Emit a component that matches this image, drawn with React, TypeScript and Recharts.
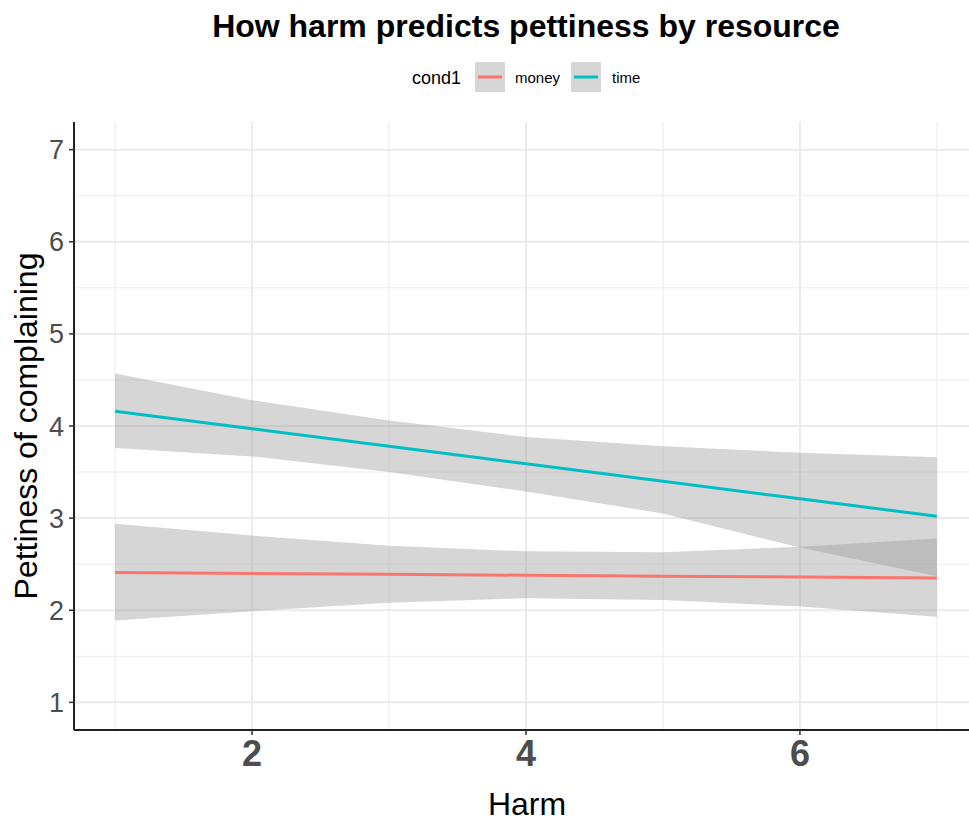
import { ComposedChart, Area, Line, XAxis, YAxis, CartesianGrid } from 'recharts'

// harm levels along the x axis
const harm = [1, 2, 3, 4, 5, 6, 7]

// money: fitted line and 95% band
const moneyFit = [2.41, 2.40, 2.39, 2.38, 2.37, 2.36, 2.35]
const moneyLower = [1.89, 1.99, 2.08, 2.13, 2.11, 2.04, 1.93]
const moneyUpper = [2.94, 2.81, 2.70, 2.64, 2.63, 2.69, 2.78]

// time: fitted line and 95% band
const timeFit = [4.16, 3.97, 3.78, 3.59, 3.40, 3.21, 3.02]
const timeLower = [3.76, 3.67, 3.50, 3.29, 3.05, 2.68, 2.37]
const timeUpper = [4.57, 4.28, 4.06, 3.88, 3.78, 3.71, 3.66]

const xTicks = [2, 4, 6]
const yTicks = [1, 2, 3, 4, 5, 6, 7]
const xMinor = [1, 3, 5, 7]
const yMinor = [1.5, 2.5, 3.5, 4.5, 5.5, 6.5]

const MONEY = '#F8766D'
const TIME = '#00BFC4'
const FONT = '"Liberation Sans", Arial, Helvetica, sans-serif'

const data = harm.map((h, i) => ({
    harm: h,
    money: moneyFit[i],
    moneyBand: [moneyLower[i], moneyUpper[i]],
    time: timeFit[i],
    timeBand: [timeLower[i], timeUpper[i]],
}))

export default function App() {
    return (
        <div style={{ position: 'absolute', left: 0, top: 0, width: 969, height: 821, overflow: 'hidden', background: '#fff', fontFamily: FONT }}>
            <ComposedChart width={990} height={821} data={data} margin={{ top: 122, right: 12, bottom: 0, left: 0 }}>
                {/* minor grid */}
                <CartesianGrid stroke="#ebebeb" strokeWidth={1} horizontalValues={yMinor} verticalValues={xMinor} />
                {/* major grid */}
                <CartesianGrid stroke="#ebebeb" strokeWidth={2} horizontalValues={yTicks} verticalValues={xTicks} />
                <XAxis
                    dataKey="harm"
                    type="number"
                    domain={[0.7, 7.3]}
                    ticks={xTicks}
                    height={91}
                    tickSize={5}
                    tickMargin={5}
                    axisLine={{ stroke: '#222', strokeWidth: 2 }}
                    tickLine={{ stroke: '#333', strokeWidth: 1.5 }}
                    tick={{ fontSize: 36, fontWeight: 'bold', fill: '#4d4d4d', fontFamily: FONT }}
                    allowDataOverflow
                />
                <YAxis
                    type="number"
                    domain={[0.7, 7.3]}
                    ticks={yTicks}
                    width={74}
                    tickSize={5}
                    tickMargin={5}
                    axisLine={{ stroke: '#222', strokeWidth: 2 }}
                    tickLine={{ stroke: '#333', strokeWidth: 1.5 }}
                    tick={{ fontSize: 27, fill: '#4d4d4d', fontFamily: FONT }}
                    allowDataOverflow
                />
                <Area dataKey="moneyBand" type="linear" stroke="none" fill="#999999" fillOpacity={0.4} isAnimationActive={false} />
                <Line dataKey="money" type="linear" stroke={MONEY} strokeWidth={3} dot={false} activeDot={false} isAnimationActive={false} />
                <Area dataKey="timeBand" type="linear" stroke="none" fill="#999999" fillOpacity={0.4} isAnimationActive={false} />
                <Line dataKey="time" type="linear" stroke={TIME} strokeWidth={3} dot={false} activeDot={false} isAnimationActive={false} />
            </ComposedChart>

            {/* titles and legend */}
            <svg width={969} height={821} style={{ position: 'absolute', left: 0, top: 0, pointerEvents: 'none' }} fontFamily={FONT}>
                <text x={526} y={37} textAnchor="middle" fontSize={32} fontWeight="bold" fill="#000">How harm predicts pettiness by resource</text>

                <text x={412} y={84} fontSize={18} fill="#000">cond1</text>
                <rect x={475} y={62} width={30} height={30} fill="#d6d6d6" />
                <line x1={478} x2={502} y1={77} y2={77} stroke={MONEY} strokeWidth={3} />
                <text x={515} y={83} fontSize={15} fill="#000">money</text>
                <rect x={571} y={62} width={30} height={30} fill="#d6d6d6" />
                <line x1={574} x2={598} y1={77} y2={77} stroke={TIME} strokeWidth={3} />
                <text x={612} y={83} fontSize={15} fill="#000">time</text>

                <text x={527} y={815} textAnchor="middle" fontSize={32} fill="#000">Harm</text>
                <text x={37} y={426} textAnchor="middle" fontSize={32} fill="#000" transform="rotate(-90 37 426)">Pettiness of complaining</text>
            </svg>
        </div>
    )
}
